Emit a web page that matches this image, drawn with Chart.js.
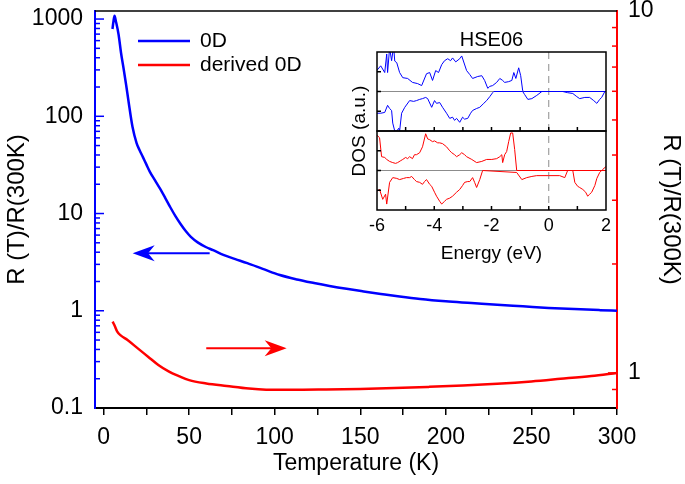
<!DOCTYPE html>
<html>
<head>
<meta charset="utf-8">
<script src="https://cdn.jsdelivr.net/npm/chart.js@4.4.1/dist/chart.umd.min.js"></script>
<style>
  html, body { margin: 0; padding: 0; background: #fff; }
  #wrap { position: relative; width: 685px; height: 484px; }
  #main { position: absolute; left: 0; top: 0; }
  #inset { position: absolute; left: 330px; top: 25px; }
</style>
</head>
<body>
<div id="wrap">
  <canvas id="main" width="685" height="484"></canvas>
  <canvas id="inset" width="290" height="245"></canvas>
</div>
<script>
// ---- main panel: R(T)/R(300K) ----
const temp0D = [5.2, 5.8, 6.4, 7.2, 8.8, 10.2, 11.7, 13.2, 14.6, 16.9, 19.3, 21, 23, 25, 27, 30, 33, 36, 39, 42, 45, 48, 51, 55, 60, 64, 70, 77, 84, 93, 103, 113, 123, 132, 142, 152, 162, 173, 185, 200, 215, 230, 245, 260, 275, 290, 300];
const r0D = [790, 950, 1080, 950, 690, 450, 310, 210, 142, 78, 53, 45, 38, 32, 27, 22, 18, 14.5, 11.6, 9.4, 7.8, 6.6, 5.75, 5.05, 4.5, 4.2, 3.75, 3.4, 3.09, 2.7, 2.33, 2.1, 1.93, 1.8, 1.68, 1.58, 1.49, 1.4, 1.32, 1.25, 1.2, 1.15, 1.11, 1.07, 1.04, 1.015, 1.0];

const tempDerived = [5.3, 6.5, 8, 10, 14, 20, 26, 32, 38, 44, 50, 60, 72, 85, 95, 110, 130, 150, 170, 190, 210, 230, 250, 267, 285, 300];
const rDerived = [1.386, 1.35, 1.30, 1.27, 1.233, 1.169, 1.109, 1.052, 1.01, 0.98, 0.955, 0.935, 0.92, 0.905, 0.899, 0.898, 0.9, 0.903, 0.908, 0.915, 0.923, 0.933, 0.947, 0.963, 0.981, 1.0];

const seriesNames = ['0D', 'derived 0D'];
const tempTicks = [0, 25, 50, 75, 100, 125, 150, 175, 200, 225, 250, 275, 300];
const leftTickLabels = ['0.1', '1', '10', '100', '1000'];
const rightTickLabels = ['1', '10'];

// arrows: [from T, to T, level on their own axis]
const arrowBlue = [62, 17, 3.9];
const arrowRed = [60, 107, 1.17];

// ---- inset: DOS, HSE06 ----
const energyTicks = [-6, -5, -4, -3, -2, -1, 0, 1, 2];

const eBlueUp = [-6.01, -5.87, -5.73, -5.66, -5.63, -5.56, -5.49, -5.42, -5.38, -5.31, -5.21, -5.1, -4.93, -4.76, -4.58, -4.44, -4.27, -4.16, -4.06, -3.95, -3.85, -3.74, -3.64, -3.53, -3.43, -3.36, -3.25, -3.11, -3.04, -2.87, -2.76, -2.66, -2.48, -2.34, -2.24, -2.13, -2.06, -1.96, -1.82, -1.71, -1.61, -1.54, -1.4, -1.29, -1.22, -1.15, -1.05, -0.98, -0.91, -0.87, 2.0];
const dosBlueUp = [0.53, 0.65, 0.48, 0.95, 0.48, 1.1, 0.78, 1.15, 0.77, 0.73, 0.48, 0.35, 0.33, 0.23, 0.2, 0.15, 0.45, 0.48, 0.28, 0.53, 0.48, 0.68, 0.78, 0.83, 0.78, 0.85, 0.75, 0.83, 0.9, 0.53, 0.43, 0.33, 0.38, 0.4, 0.28, 0.08, 0.13, 0.15, 0.23, 0.33, 0.28, 0.23, 0.25, 0.28, 0.48, 0.33, 0.6, 0.4, 0.02, 0, 0];

const eBlueDn = [-6.01, -5.87, -5.73, -5.63, -5.56, -5.49, -5.45, -5.38, -5.31, -5.24, -5.21, -5.14, -5.03, -4.86, -4.72, -4.62, -4.51, -4.41, -4.3, -4.23, -4.09, -3.99, -3.92, -3.81, -3.71, -3.57, -3.46, -3.36, -3.29, -3.22, -3.11, -3.01, -2.94, -2.83, -2.73, -2.66, -2.52, -2.41, -2.27, -2.17, -2.06, -1.96, -1.92, -0.91, -0.84, -0.73, -0.59, -0.42, -0.24, 0.49, 0.66, 0.84, 0.98, 1.08, 1.26, 1.43, 1.57, 1.68, 1.78, 1.85, 1.96, 2.0];
const dosBlueDn = [-0.55, -0.55, -0.53, -0.35, -0.43, -0.48, -0.8, -1.0, -1.0, -0.93, -1.0, -0.55, -0.4, -0.23, -0.25, -0.23, -0.2, -0.18, -0.15, -0.18, -0.4, -0.23, -0.3, -0.28, -0.4, -0.55, -0.68, -0.65, -0.73, -0.68, -0.78, -0.65, -0.7, -0.68, -0.55, -0.48, -0.43, -0.4, -0.3, -0.23, -0.13, -0.03, 0, 0, -0.08, -0.2, -0.18, -0.1, 0, 0, -0.03, -0.05, -0.13, -0.18, -0.15, -0.15, -0.23, -0.3, -0.2, -0.15, 0, 0];

const eRedUp = [-6.01, -5.91, -5.84, -5.73, -5.66, -5.56, -5.45, -5.35, -5.28, -5.17, -5.1, -5.0, -4.93, -4.86, -4.76, -4.69, -4.62, -4.51, -4.41, -4.3, -4.23, -4.16, -4.06, -3.99, -3.88, -3.81, -3.71, -3.57, -3.46, -3.39, -3.29, -3.22, -3.11, -3.04, -2.94, -2.87, -2.69, -2.52, -2.34, -2.17, -1.99, -1.82, -1.71, -1.64, -1.61, -1.54, -1.47, -1.4, -1.33, -1.26, -1.19, -1.12, 2.0];
const dosRedUp = [0.9, 0.83, 0.35, 0.33, 0.28, 0.23, 0.2, 0.18, 0.2, 0.25, 0.28, 0.33, 0.3, 0.35, 0.3, 0.4, 0.4, 0.45, 0.6, 0.93, 0.8, 0.78, 0.73, 0.75, 0.7, 0.7, 0.68, 0.6, 0.5, 0.45, 0.4, 0.35, 0.4, 0.45, 0.4, 0.35, 0.28, 0.2, 0.23, 0.28, 0.28, 0.3, 0.35, 0.4, 0.2, 0.4, 0.48, 0.73, 0.95, 0.95, 0.53, 0, 0];

const eRedDn = [-6.01, -5.91, -5.8, -5.7, -5.66, -5.56, -5.45, -5.31, -5.21, -5.07, -4.97, -4.86, -4.79, -4.69, -4.62, -4.51, -4.41, -4.34, -4.27, -4.16, -4.09, -3.99, -3.92, -3.81, -3.74, -3.64, -3.57, -3.46, -3.36, -3.22, -3.11, -3.01, -2.94, -2.83, -2.76, -2.66, -2.59, -2.52, -2.41, -2.31, -1.12, -0.94, -0.77, -0.59, -0.42, 0, 0.38, 0.56, 0.66, 0.84, 0.91, 1.01, 1.08, 1.19, 1.29, 1.36, 1.43, 1.5, 1.61, 1.68, 1.78, 1.89, 2.0];
const dosRedDn = [-0.53, -0.48, -0.73, -0.6, -0.85, -0.3, -0.18, -0.2, -0.23, -0.2, -0.18, -0.18, -0.15, -0.23, -0.28, -0.3, -0.35, -0.28, -0.23, -0.35, -0.4, -0.55, -0.65, -0.78, -0.85, -0.78, -0.73, -0.7, -0.65, -0.55, -0.48, -0.38, -0.3, -0.28, -0.28, -0.18, -0.3, -0.43, -0.23, 0, -0.05, -0.23, -0.18, -0.15, -0.13, -0.13, -0.13, -0.18, 0, 0, -0.3, -0.4, -0.43, -0.48, -0.55, -0.65, -0.6, -0.55, -0.38, -0.2, -0.05, 0.03, 0.1];

const FONT = "'Liberation Sans', Arial, Helvetica, sans-serif";
const BLUE = '#0000ff';
const RED = '#ff0000';
Chart.defaults.font.family = FONT;
Chart.defaults.color = '#000';

const pts = (xs, ys) => xs.map((x, i) => ({x: x, y: ys[i]}));

function isDecade(v) {
  const m = Math.log10(v);
  return Math.abs(m - Math.round(m)) < 1e-6;
}
function intMantissa(v) {
  const m = v / Math.pow(10, Math.floor(Math.log10(v) + 1e-9));
  return Math.abs(m - Math.round(m)) < 1e-6;
}
function decadeLabel(v, list) {
  if (!isDecade(v)) return '';
  const s = v >= 1 ? v.toFixed(0) : v.toFixed(1);
  return list.includes(s) ? s : '';
}
function noOverhang(s) {
  s.paddingTop = 0;
  s.paddingBottom = 0;
}

function inTicks(ctx, s, x0, dir, color) {
  ctx.strokeStyle = color;
  ctx.lineWidth = 1.5;
  s.ticks.forEach(t => {
    const y = s.getPixelForValue(t.value);
    if (y < s.top + 1 || y > s.bottom - 1) return;
    const len = isDecade(t.value) ? 9 : 5;
    ctx.beginPath();
    ctx.moveTo(x0, y);
    ctx.lineTo(x0 + dir * len, y);
    ctx.stroke();
  });
}

function arrow(ctx, x1, x2, y, color) {
  const dir = Math.sign(x2 - x1);
  const headLen = 22, headW = 8;
  ctx.strokeStyle = color;
  ctx.fillStyle = color;
  ctx.lineWidth = 2;
  ctx.beginPath();
  ctx.moveTo(x1, y);
  ctx.lineTo(x2 - dir * headLen * 0.6, y);
  ctx.stroke();
  ctx.beginPath();
  ctx.moveTo(x2, y);
  ctx.lineTo(x2 - dir * headLen, y - headW);
  ctx.lineTo(x2 - dir * headLen * 0.7, y);
  ctx.lineTo(x2 - dir * headLen, y + headW);
  ctx.closePath();
  ctx.fill();
}

const mainDeco = {
  id: 'mainDeco',
  afterDatasetsDraw(chart) {
    const {ctx, chartArea: a, scales} = chart;
    ctx.save();
    ctx.strokeStyle = '#000';
    ctx.lineWidth = 1.5;
    ctx.beginPath();
    ctx.moveTo(a.left, a.top);
    ctx.lineTo(a.right, a.top);
    ctx.stroke();

    inTicks(ctx, scales.y, a.left, 1, BLUE);
    inTicks(ctx, scales.y2, a.right, -1, RED);

    const x = scales.x;
    arrow(ctx, x.getPixelForValue(arrowBlue[0]), x.getPixelForValue(arrowBlue[1]), scales.y.getPixelForValue(arrowBlue[2]), BLUE);
    arrow(ctx, x.getPixelForValue(arrowRed[0]), x.getPixelForValue(arrowRed[1]), scales.y2.getPixelForValue(arrowRed[2]), RED);

    // legend
    const colors = [BLUE, RED];
    ctx.font = '21px ' + FONT;
    ctx.textBaseline = 'middle';
    ctx.fillStyle = '#000';
    seriesNames.forEach((name, i) => {
      const ly = a.top + 30 + i * 24;
      ctx.strokeStyle = colors[i];
      ctx.lineWidth = 2.5;
      ctx.beginPath();
      ctx.moveTo(a.left + 43, ly);
      ctx.lineTo(a.left + 95, ly);
      ctx.stroke();
      ctx.fillText(name, a.left + 105, ly);
    });
    ctx.restore();
  }
};

new Chart(document.getElementById('main'), {
  type: 'line',
  data: {
    datasets: [
      {label: seriesNames[0], data: pts(temp0D, r0D), borderColor: BLUE, yAxisID: 'y'},
      {label: seriesNames[1], data: pts(tempDerived, rDerived), borderColor: RED, yAxisID: 'y2'}
    ]
  },
  plugins: [mainDeco],
  options: {
    responsive: false,
    animation: false,
    layout: {padding: {top: 11, left: 0, right: 0, bottom: 0}},
    elements: {
      point: {radius: 0},
      line: {borderWidth: 2.5, cubicInterpolationMode: 'monotone', fill: false}
    },
    plugins: {legend: {display: false}, tooltip: {enabled: false}},
    scales: {
      x: {
        type: 'linear', min: -5, max: 300,
        afterBuildTicks(s) { s.ticks = tempTicks.map(v => ({value: v})); },
        afterFit(s) { s.height = 76; s.paddingLeft = 0; s.paddingRight = 0; },
        ticks: {autoSkip: false, maxRotation: 0, padding: 9, font: {size: 23},
                callback: v => (v % 50 === 0 ? String(v) : '')},
        grid: {drawOnChartArea: false, drawTicks: true, tickLength: 7, color: '#000', lineWidth: 1.5},
        border: {color: '#000', width: 2},
        title: {display: true, text: 'Temperature (K)', font: {size: 23}, padding: {bottom: 7}}
      },
      y: {
        type: 'logarithmic', position: 'left', min: 0.1, max: 1210,
        afterBuildTicks(s) { s.ticks = s.ticks.filter(t => intMantissa(t.value)); },
        afterFit(s) { s.width = 95; noOverhang(s); },
        ticks: {autoSkip: false, padding: 12, font: {size: 23},
                callback: v => decadeLabel(v, leftTickLabels)},
        grid: {display: false, drawTicks: false},
        border: {color: BLUE, width: 2},
        title: {display: true, text: 'R (T)/R(300K)', font: {size: 24}, padding: {top: 3}}
      },
      y2: {
        type: 'logarithmic', position: 'right', min: 0.8, max: 10,
        afterBuildTicks(s) { s.ticks = s.ticks.filter(t => intMantissa(t.value)); },
        afterFit(s) { s.width = 68; noOverhang(s); },
        ticks: {autoSkip: false, padding: 11, font: {size: 23},
                callback: v => decadeLabel(v, rightTickLabels)},
        grid: {display: false, drawTicks: false},
        border: {color: RED, width: 2},
        title: {display: true, text: 'R (T)/R(300K)', font: {size: 24}, padding: {top: 0}}
      }
    }
  }
});

// ---- inset ----
const insetDeco = {
  id: 'insetDeco',
  beforeDatasetsDraw(chart) {
    const {ctx, chartArea: a, scales} = chart;
    ctx.save();
    ctx.strokeStyle = '#8c8c8c';
    ctx.lineWidth = 1;
    ['yb', 'yr'].forEach(id => {
      const y0 = scales[id].getPixelForValue(0);
      ctx.beginPath();
      ctx.moveTo(a.left, y0);
      ctx.lineTo(a.right, y0);
      ctx.stroke();
    });
    const xz = scales.x.getPixelForValue(0);
    ctx.setLineDash([7, 5]);
    ctx.beginPath();
    ctx.moveTo(xz, a.top);
    ctx.lineTo(xz, a.bottom);
    ctx.stroke();
    ctx.restore();
  },
  afterDatasetsDraw(chart) {
    const {ctx, chartArea: a, scales} = chart;
    ctx.save();
    ctx.strokeStyle = '#000';
    ctx.lineWidth = 1.5;
    ['yb', 'yr'].forEach(id => {
      const s = scales[id];
      ctx.strokeRect(a.left, s.top, a.right - a.left, s.bottom - s.top);
      // inward ticks
      ctx.beginPath();
      scales.x.ticks.forEach(t => {
        const px = scales.x.getPixelForValue(t.value);
        if (px <= a.left + 1 || px >= a.right - 1) return;
        ctx.moveTo(px, s.bottom);
        ctx.lineTo(px, s.bottom - 4);
      });
      [-0.5, 0, 0.5].forEach(v => {
        const py = s.getPixelForValue(v);
        ctx.moveTo(a.left, py);
        ctx.lineTo(a.left + 4, py);
      });
      ctx.stroke();
    });
    ctx.fillStyle = '#000';
    ctx.textAlign = 'center';
    ctx.textBaseline = 'middle';
    ctx.font = '20px ' + FONT;
    ctx.fillText('HSE06', (a.left + a.right) / 2, a.top - 12);
    ctx.font = '19px ' + FONT;
    ctx.translate(a.left - 17, (a.top + a.bottom) / 2);
    ctx.rotate(-Math.PI / 2);
    ctx.fillText('DOS (a.u.)', 0, 0);
    ctx.restore();
  }
};

const panelAxis = {
  type: 'linear', position: 'left', stack: 'dos', stackWeight: 1, min: -1, max: 1,
  afterFit(s) { s.width = 47; },
  ticks: {display: false},
  grid: {display: false},
  border: {display: false}
};

new Chart(document.getElementById('inset'), {
  type: 'line',
  data: {
    datasets: [
      {data: pts(eBlueUp, dosBlueUp), borderColor: BLUE, yAxisID: 'yb'},
      {data: pts(eBlueDn, dosBlueDn), borderColor: BLUE, yAxisID: 'yb'},
      {data: pts(eRedUp, dosRedUp), borderColor: RED, yAxisID: 'yr'},
      {data: pts(eRedDn, dosRedDn), borderColor: RED, yAxisID: 'yr'}
    ]
  },
  plugins: [insetDeco],
  options: {
    responsive: false,
    animation: false,
    layout: {padding: {top: 27, right: 14, left: 0, bottom: 0}},
    elements: {point: {radius: 0}, line: {borderWidth: 1, tension: 0, fill: false}},
    plugins: {legend: {display: false}, tooltip: {enabled: false}},
    scales: {
      x: {
        type: 'linear', min: -6, max: 2,
        afterBuildTicks(s) { s.ticks = energyTicks.map(v => ({value: v})); },
        afterFit(s) { s.height = 60; },
        ticks: {autoSkip: false, maxRotation: 0, padding: 5, font: {size: 18},
                callback: v => (v % 2 === 0 ? String(v) : '')},
        grid: {drawOnChartArea: false, drawTicks: false},
        border: {display: false},
        title: {display: true, text: 'Energy (eV)', font: {size: 19}, padding: {bottom: 5}}
      },
      // listed bottom panel first: Chart.js stacks them upward
      yr: Object.assign({}, panelAxis),
      yb: Object.assign({}, panelAxis)
    }
  }
});
</script>
</body>
</html>
